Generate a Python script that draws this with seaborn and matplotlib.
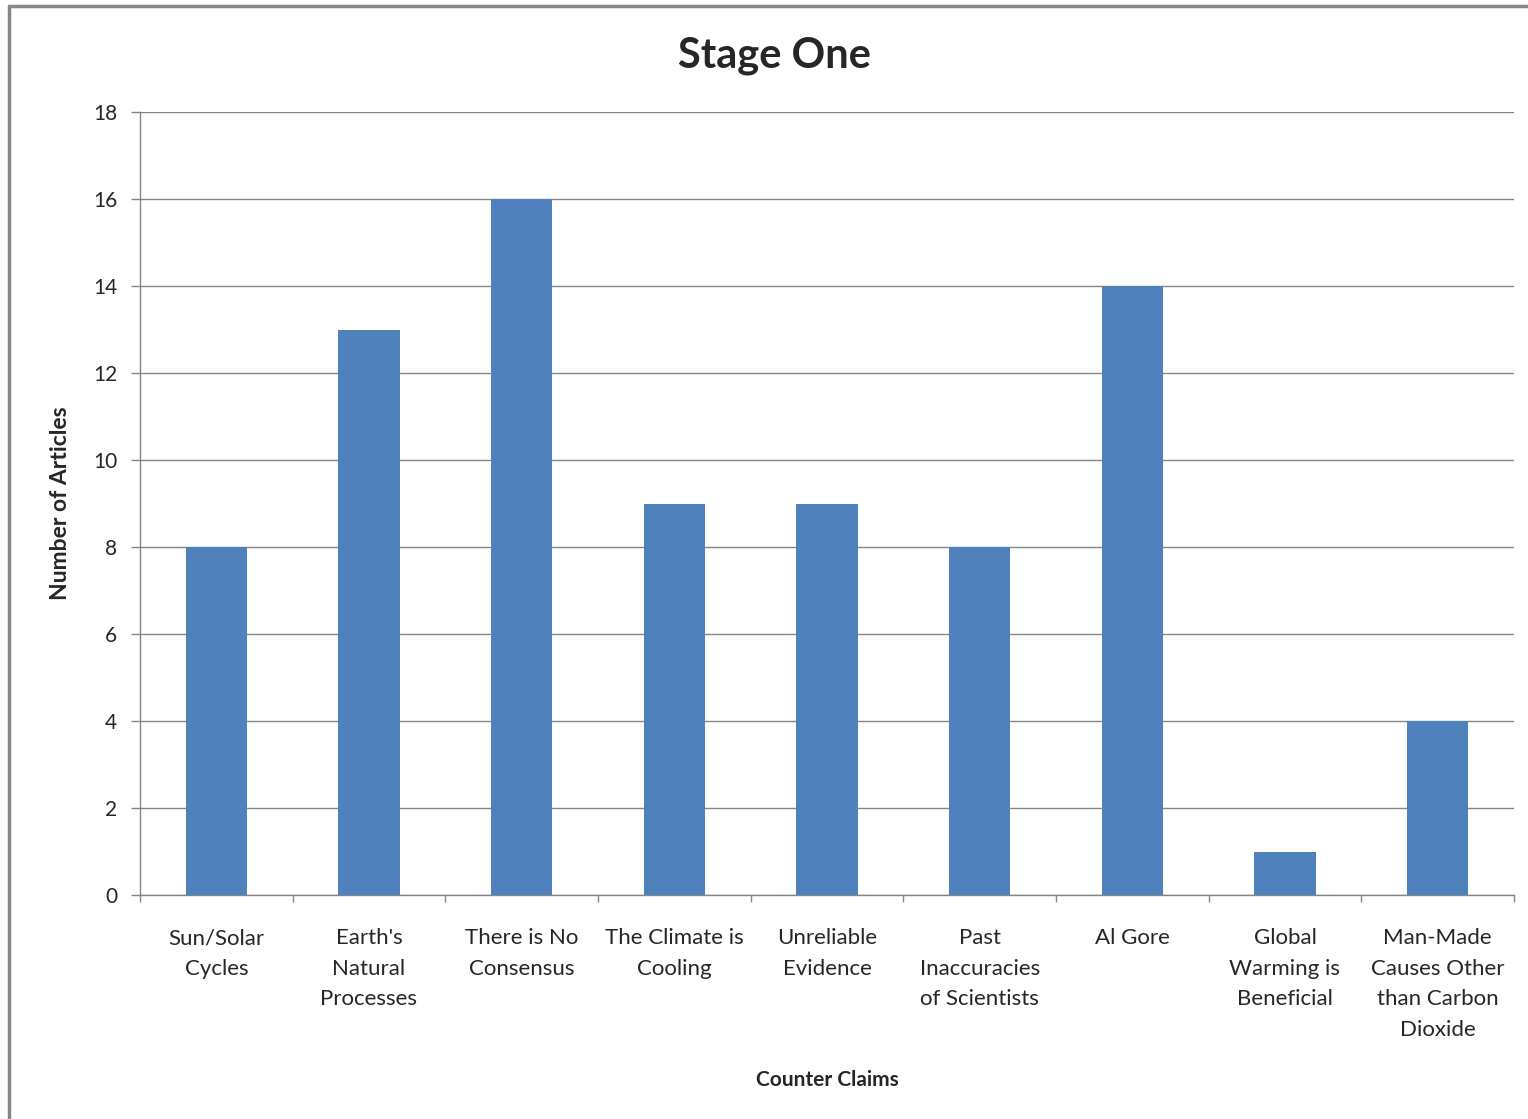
import numpy as np
import pandas as pd
import seaborn as sns
import matplotlib.pyplot as plt
from matplotlib.lines import Line2D
from matplotlib.ticker import FixedLocator

claims = ["Sun/Solar\nCycles", "Earth's\nNatural\nProcesses", "There is No\nConsensus",
          "The Climate is\nCooling", "Unreliable\nEvidence", "Past\nInaccuracies\nof Scientists",
          "Al Gore", "Global\nWarming is\nBeneficial", "Man-Made\nCauses Other\nthan Carbon\nDioxide"]
articles = [8, 13, 16, 9, 9, 8, 14, 1, 4]
y_ticks = [0, 2, 4, 6, 8, 10, 12, 14, 16, 18]

df = pd.DataFrame({"claim": claims, "articles": articles})

sns.set_style("white")
plt.rcParams['font.family'] = ['Lato', 'DejaVu Sans']

fig = plt.figure(figsize=(15.28, 11.19), dpi=100)
ax = fig.add_axes([140/1528, 1-895/1119, (1514-140)/1528, (895-112)/1119])

sns.barplot(data=df, x="claim", y="articles", color="#4F81BD", saturation=1,
            width=0.4, ax=ax, zorder=3, linewidth=0)

grid_c = "#868686"
ax.set_ylim(0, 18)
ax.set_xlim(-0.5, len(claims) - 0.5)
ax.set_yticks(y_ticks)
ax.yaxis.grid(True, color=grid_c, linewidth=1)
ax.set_axisbelow(True)
for s in ["top", "right"]:
    ax.spines[s].set_visible(False)
for s in ["left", "bottom"]:
    ax.spines[s].set_color(grid_c)
    ax.spines[s].set_linewidth(1)

ax.tick_params(axis="y", length=6.5, width=1, color=grid_c, pad=10, labelsize=15, direction="out", left=True)
ax.xaxis.set_minor_locator(FixedLocator(np.arange(-0.5, len(claims), 1.0)))
ax.tick_params(axis="x", which="major", length=0, pad=24, labelsize=16)
ax.tick_params(axis="x", which="minor", length=5, width=1, color=grid_c, direction="out", bottom=True)
ax.set_xticks(range(len(claims)))
ax.set_xticklabels(claims, linespacing=1.65, va="top")

ax.set_xlabel("Counter Claims", fontsize=15, fontweight="bold", labelpad=22)
ax.set_ylabel("Number of Articles", fontsize=16.5, fontweight="bold", labelpad=16)

fig.text(775/1528, 1-56/1119, "Stage One", fontsize=30, fontweight="bold", ha="center", va="center")

# chart frame (left and top edges visible)
fig.add_artist(Line2D([9/1528, 9/1528], [0, 1-6/1119], transform=fig.transFigure, color=grid_c, linewidth=2.5))
fig.add_artist(Line2D([9/1528, 1], [1-6/1119, 1-6/1119], transform=fig.transFigure, color=grid_c, linewidth=2.5))

fig.savefig("out.png", dpi=100)
